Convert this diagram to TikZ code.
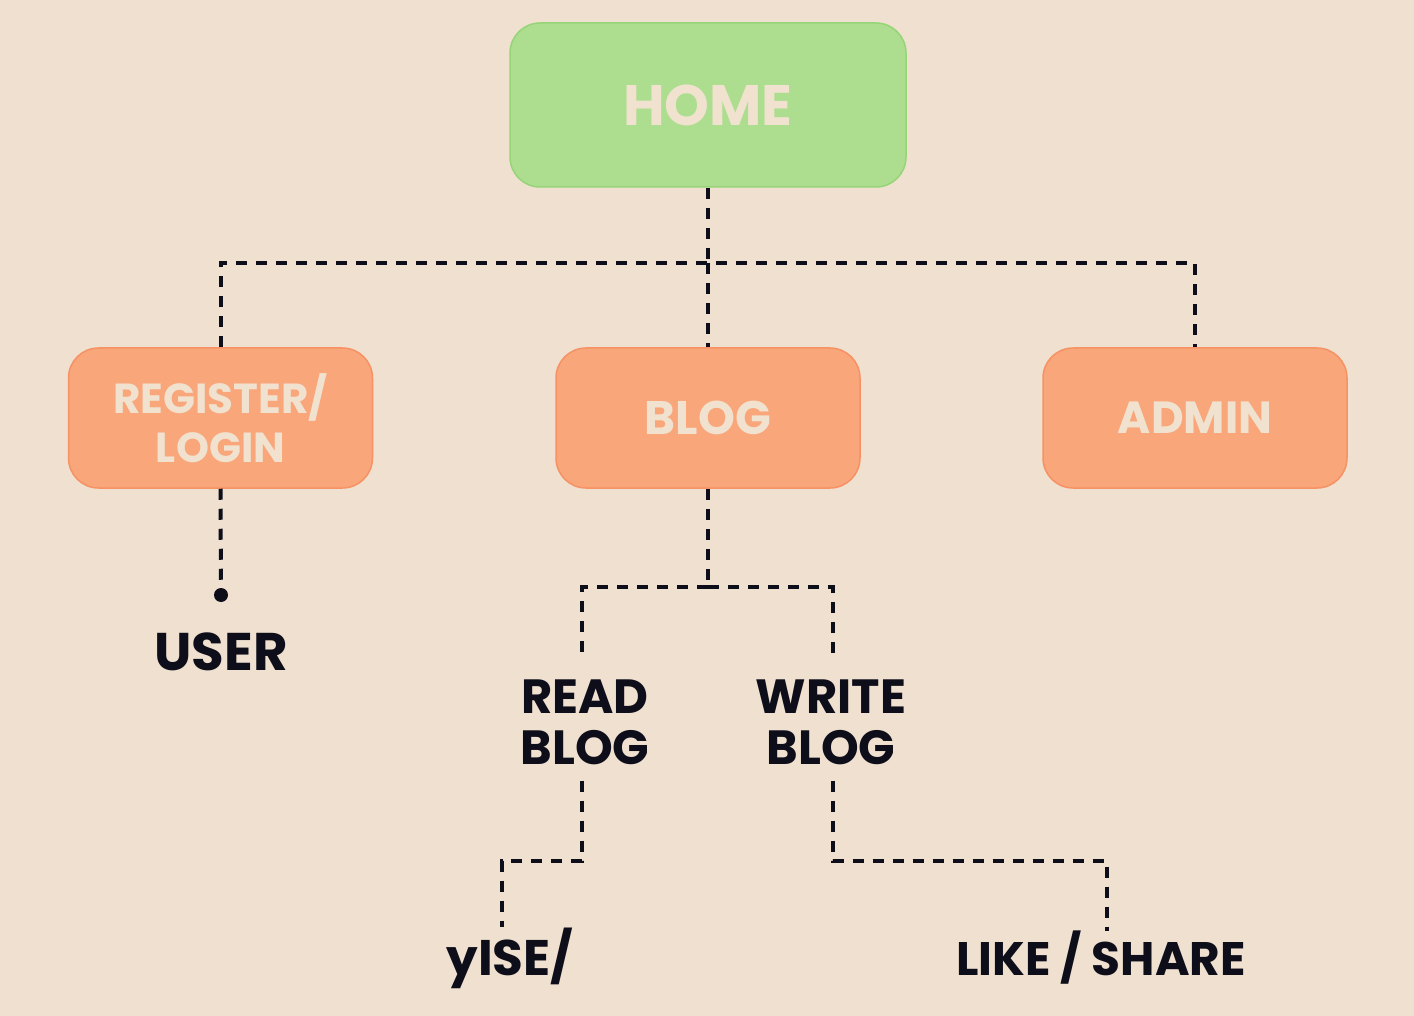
\documentclass[tikz,border=0pt]{standalone}
\usepackage{fontspec}
\setmainfont{Poppins}
\usetikzlibrary{positioning}
\definecolor{paper}{RGB}{239,224,208}
\definecolor{leaf}{RGB}{173,222,143}
\definecolor{leafedge}{RGB}{150,212,120}
\definecolor{peach}{RGB}{249,166,122}
\definecolor{peachedge}{RGB}{246,146,100}
\definecolor{cream}{RGB}{241,226,208}
\definecolor{ink}{RGB}{14,14,26}
\tikzset{
  card/.style={draw=#1edge, fill=#1, line width=1.5pt, rounded corners=30pt,
    minimum width=304pt, minimum height=140pt, text=cream, align=center,
    font=\bfseries\fontsize{47}{49}\selectfont, inner sep=0pt},
  label/.style={text=ink, align=center, inner sep=0pt,
    font=\bfseries\fontsize{48}{51}\selectfont},
  link/.style={draw=ink, line width=4pt, dash pattern=on 11pt off 9pt},
}
\begin{document}
\begin{tikzpicture}[x=1pt,y=-1pt]
  \fill[paper] (0,0) rectangle (1414,1016);
  \useasboundingbox (0,0) rectangle (1414,1016);

  % top level
  \node[card=leaf, minimum width=396pt, minimum height=164pt,
        font=\bfseries\fontsize{57}{57}\selectfont] (home) at (708,105) {HOME};

  % second level
  \node[card=peach, font=\bfseries\fontsize{42}{49}\selectfont]
        (reg) at (220.5,418) {REGISTER/\\LOGIN};
  \node[card=peach] (blog) at (708,418) {BLOG};
  \node[card=peach, font=\bfseries\fontsize{45}{49}\selectfont] (admin) at (1195,418) {ADMIN};

  \coordinate (j1) at (708,263);
  \draw[link] (home.south) -- (j1);
  \draw[link] (reg.north) |- (j1) -| (admin.north);
  \draw[link] (j1) -- (blog.north);

  % register branch
  \node[circle, fill=ink, minimum size=14pt, inner sep=0pt] (dot) at (221,595) {};
  \draw[link] (reg.south) -- (dot);
  \node[label, font=\bfseries\fontsize{53}{53}\selectfont] (user) at (221,652) {USER};

  % blog branch
  \coordinate (j2) at (708,587);
  \node[label] (read) at (585,722) {READ\\BLOG};
  \node[label] (write) at (831,722) {WRITE\\BLOG};
  \draw[link] (blog.south) -- (j2);
  \draw[link, shorten >=25pt] (j2) -| ([xshift=-3pt]read.north);
  \draw[link, shorten >=25pt] (j2) -| ([xshift=2pt]write.north);

  % leaves
  \node[label, font=\bfseries\fontsize{50}{50}\selectfont] (use) at (510,958) {yISE/};
  \node[label, font=\bfseries\fontsize{47}{47}\selectfont] (share) at (1101,958) {LIKE / SHARE};
  \coordinate (j3) at (502,861);
  \coordinate (j4) at (1107,861);
  \draw[link, shorten <=16pt] ([xshift=-3pt]read.south) |- (j3) -- (j3 |- use.north);
  \draw[link, shorten <=16pt] ([xshift=2pt]write.south) |- (j4) -- (j4 |- share.north);
\end{tikzpicture}
\end{document}
